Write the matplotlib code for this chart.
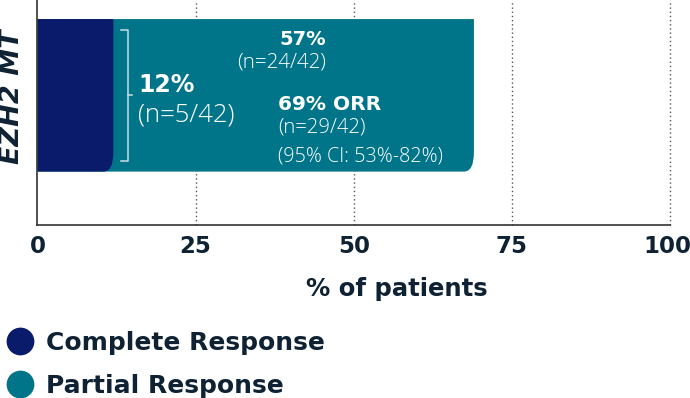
import matplotlib
matplotlib.use('Agg')
import matplotlib.pyplot as plt
import matplotlib.transforms as mtransforms
from matplotlib.path import Path
from matplotlib.patches import PathPatch
from matplotlib.lines import Line2D

# data
group = 'EZH2 MT'
cr_pct = 12
pr_pct = 57
orr_pct = 69
cr_n = '(n=5/42)'
pr_n = '(n=24/42)'
orr_n = '(n=29/42)'
orr_ci = '(95% CI: 53%-82%)'
xticks = [0, 25, 50, 75, 100]
legend_labels = ['Complete Response', 'Partial Response']

NAVY = '#0b1b6b'
TEAL = '#00758a'
DARK = '#0f2233'
BRACKET = '#c9dee3'


def rounded_bar(ax, left, width, y, h, color, rx=1.6, ry=0.1):
    # bar with only the lower right corner rounded
    x0, x1 = left, left + width
    y0, y1 = y - h / 2, y + h / 2
    verts = [(x0, y0), (x1 - rx, y0), (x1, y0), (x1, y0 + ry),
             (x1, y1), (x0, y1), (x0, y0)]
    codes = [Path.MOVETO, Path.LINETO, Path.CURVE3, Path.CURVE3,
             Path.LINETO, Path.LINETO, Path.CLOSEPOLY]
    ax.add_patch(PathPatch(Path(verts, codes), facecolor=color,
                           edgecolor='none', zorder=2))


fig = plt.figure(figsize=(6.9, 3.98), dpi=100)
ax = fig.add_axes([0.0543, 0.4347, 0.9167, 0.5653])

bar_h = 0.8
rounded_bar(ax, 0, cr_pct + pr_pct, 0, bar_h, TEAL)
rounded_bar(ax, 0, cr_pct, 0, bar_h, NAVY)

ax.set_xlim(0, 100)
ax.set_ylim(-0.68, 0.5)
ax.set_xticks(xticks)
ax.set_xticklabels([str(t) for t in xticks], fontsize=16.5,
                   fontweight='bold', color=DARK)
ax.set_yticks([])
ax.tick_params(axis='x', length=0, pad=7.5)
# keep the last label inside the figure
last = ax.get_xticklabels()[-1]
last.set_transform(last.get_transform() +
                   mtransforms.ScaledTranslation(-3 / 100, 0, fig.dpi_scale_trans))

for t in xticks[1:]:
    ax.axvline(t, color='#555555', lw=1.0, ls=(0, (1, 2)), zorder=1,
               clip_on=False)

for s in ['top', 'right']:
    ax.spines[s].set_visible(False)
for s in ['left', 'bottom']:
    ax.spines[s].set_color('#333333')
    ax.spines[s].set_linewidth(1.2)

# bracket around the CR label
bx = 14.3
ax.plot([13.2, bx, bx, 13.2], [0.343, 0.343, -0.342, -0.342],
        color=BRACKET, lw=1.1, zorder=3)
ax.plot([bx, 14.9], [0, 0], color=BRACKET, lw=1.1, zorder=3)

light = dict(family='Open Sans', fontweight=300, color='white', zorder=4)
bold = dict(family='DejaVu Sans', fontweight='bold', color='white', zorder=4)

ax.text(15.9, 0.019, f'{cr_pct}%', fontsize=17, ha='left', va='baseline', **bold)
ax.text(15.9, -0.136, cr_n, fontsize=18.5, ha='left', va='baseline', **light)

ax.text(45.6, 0.265, f'{pr_pct}%', fontsize=14, ha='right', va='baseline', **bold)
ax.text(45.6, 0.145, pr_n, fontsize=14.8, ha='right', va='baseline', **light)

ax.text(38.0, -0.075, f'{orr_pct}% ORR', fontsize=14.5, ha='left', va='baseline', **bold)
ax.text(38.0, -0.195, orr_n, fontsize=14.6, ha='left', va='baseline', **light)
ax.text(38.0, -0.347, orr_ci, fontsize=14.2, ha='left', va='baseline', **light)

ax.text(0.568, -0.316, '% of patients', transform=ax.transAxes, ha='center',
        va='baseline', fontsize=17.5, fontweight='bold', color=DARK)

fig.text(12 / 690, 1 - 97 / 398, group, rotation=90, ha='center', va='center',
         fontsize=19.5, fontweight='bold', style='italic', color=DARK)

handles = [Line2D([], [], ls='none', marker='o', markersize=20,
                  markerfacecolor=c, markeredgecolor='none')
           for c in [NAVY, TEAL]]
leg = ax.legend(handles, legend_labels, loc='upper left',
                bbox_to_anchor=(5 / 690, 1 - 331 / 398),
                bbox_transform=fig.transFigure, frameon=False,
                fontsize=18, handlelength=1.2, handletextpad=0.45,
                labelspacing=0.74, borderpad=0, borderaxespad=0)
for txt in leg.get_texts():
    txt.set_fontweight('bold')
    txt.set_color(DARK)

fig.savefig('out.png', dpi=100)
